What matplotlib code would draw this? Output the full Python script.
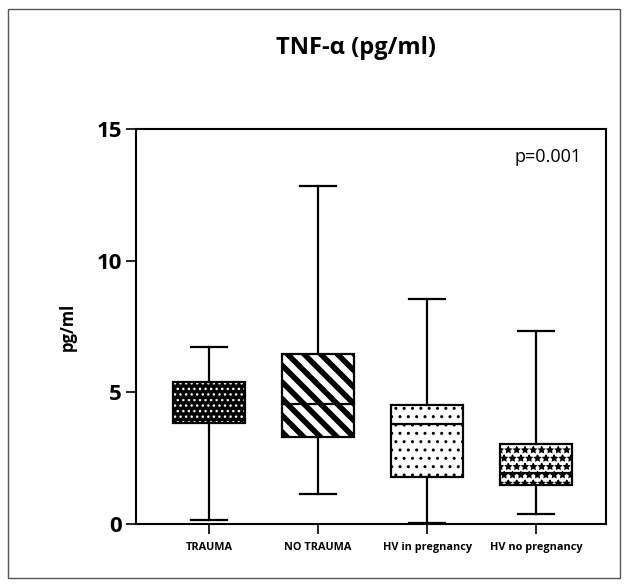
import matplotlib
matplotlib.use("Agg")
import matplotlib.pyplot as plt
from matplotlib.patches import PathPatch, Rectangle

categories = ["TRAUMA", "NO TRAUMA", "HV in pregnancy", "HV no pregnancy"]
whislo = [0.15, 1.14, 0.04, 0.38]
q1 = [3.84, 3.30, 1.79, 1.48]
med = [4.79, 4.56, 3.80, 1.94]
q3 = [5.39, 6.46, 4.52, 3.04]
whishi = [6.72, 12.84, 8.55, 7.33]
yticks = [0, 5, 10, 15]

# fill style per box: (facecolor, hatch, hatch color, hatch linewidth)
styles = [("black", "...", "white", 1.0),
          ("white", "\\\\", "black", 4.0),
          ("white", "..", "black", 1.0),
          ("white", "**", "black", 1.0)]

plt.rcParams['font.family'] = ['Open Sans', 'DejaVu Sans']

fig = plt.figure(figsize=(6.27, 5.87), dpi=100)
fig.patches.append(Rectangle((8/627, 9/587), 612/627, 569/587, transform=fig.transFigure,
                             fill=False, edgecolor="#555555", linewidth=1.0))
ax = fig.add_axes([136/627, 63/587, 470/627, 395/587])

stats = []
for i, c in enumerate(categories):
    stats.append(dict(label=c, whislo=whislo[i], q1=q1[i], med=med[i], q3=q3[i], whishi=whishi[i]))

lw = 1.6
bp = ax.bxp(stats, positions=range(len(categories)), widths=0.66, capwidths=0.33,
            showfliers=False, patch_artist=True,
            boxprops=dict(facecolor="none", edgecolor="black", linewidth=lw),
            medianprops=dict(color="black", linewidth=lw),
            whiskerprops=dict(color="black", linewidth=lw),
            capprops=dict(color="black", linewidth=lw))

for box, (fc, hatch, hc, hlw) in zip(bp["boxes"], styles):
    with plt.rc_context({"hatch.linewidth": hlw, "hatch.color": hc}):
        p = PathPatch(box.get_path(), facecolor=fc, edgecolor=hc, hatch=hatch,
                      linewidth=0, zorder=box.get_zorder() - 0.1)
    ax.add_patch(p)

ax.set_xlim(-0.67, 3.64)
ax.set_ylim(0, 15)
ax.set_yticks(yticks)
ax.set_yticklabels([str(t) for t in yticks], fontsize=16, fontweight="bold")
ax.set_xticks(range(len(categories)))
ax.set_xticklabels(categories, fontsize=7.8, fontweight="bold")
ax.tick_params(axis="both", direction="out", length=7, width=1.2, pad=3)
ax.tick_params(axis="x", pad=6)
for s in ax.spines.values():
    s.set_linewidth(1.5)
ax.set_ylabel("pg/ml", fontsize=12, fontweight="bold", labelpad=14)

ax.text((582 - 136) / 470, 0.93, "p=0.001", transform=ax.transAxes, ha="right", va="center", fontsize=13)
fig.text(356/627, 1 - 48/587, "TNF-α (pg/ml)", ha="center", va="center",
         fontsize=17, fontweight="bold")

fig.savefig("out.png", dpi=100)
